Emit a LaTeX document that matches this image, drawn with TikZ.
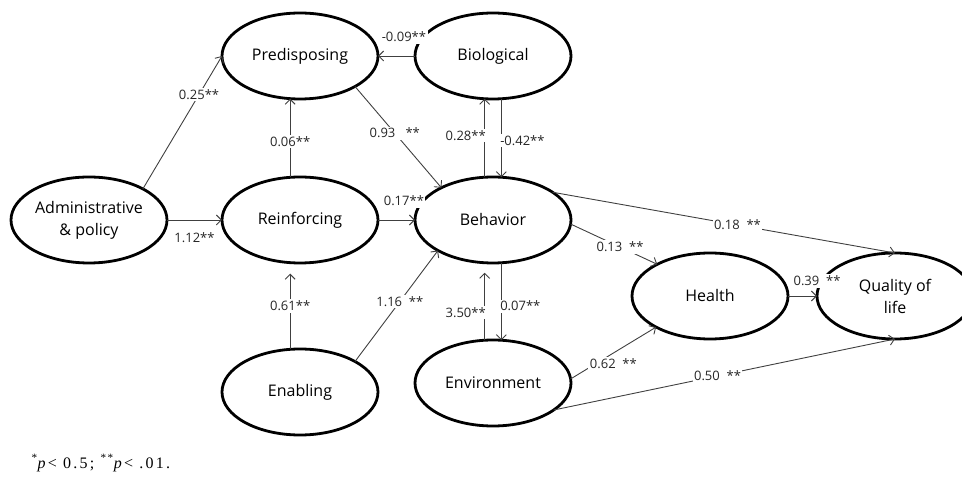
\documentclass[tikz,border=0pt]{standalone}
\usepackage{fontspec}
\setmainfont{Open Sans}
\newfontfamily\notefont[LetterSpace=14]{Liberation Serif}
\usepackage{tkz-graph}
\usetikzlibrary{arrows.meta,shapes.geometric}

\begin{document}
\begin{tikzpicture}[x=1pt,y=1pt,
	VertexStyle/.style={draw,ellipse,line width=2.8pt,inner sep=0pt,
		minimum width=156pt,minimum height=86pt,align=center,
		font=\fontsize{16}{22}\selectfont},
	EdgeStyle/.style={draw,->,>={Straight Barb[length=5pt,width=10pt]},
		line width=0.9pt,color=black!75},
	LabelStyle/.style={fill=white,inner sep=1.5pt,text=black!85,
		font=\fontsize{13}{15}\selectfont}]
	\useasboundingbox (0,0) rectangle (962,477);
		\Vertex[x=89 ,y=257,L={Administrative\\\& policy}]{Adm}
		\Vertex[x=300,y=421,L={Predisposing}]{Pred}
		\Vertex[x=493,y=421,L={Biological}]{Bio}
		\Vertex[x=300,y=257,L={Reinforcing}]{Reinf}
		\Vertex[x=493,y=257,L={Behavior}]{Beh}
		\Vertex[x=300,y=85 ,L={Enabling}]{Enab}
		\Vertex[x=493,y=94 ,L={Environment}]{Env}
		\Vertex[x=710,y=181,L={Health}]{Hlth}
		\Vertex[x=895,y=181,L={Quality of\\life}]{QoL}
	% left part
		\Edge[label=0.25**,labelstyle={pos=.71}](Adm.30)(Pred.west)
		\Edge[label=1.12**,labelstyle={below=11pt}](Adm)(Reinf)
		\Edge[label=0.06**,labelstyle={pos=.45}](Reinf.103)(Pred.257)
		\Edge[label=0.61**,style={shorten >=11pt}](Enab.103)(Reinf.257)
		\Edge[label=1.16\ \ **,labelstyle={pos=.54}](Enab.29)(Beh.209)
		\Edge[label=0.17**,labelstyle={pos=.7,above=12pt}](Reinf)(Beh)
		\Edge[label=0.93\ \ \ **,labelstyle={pos=.46}](Pred.331)(Beh.148)
	% around behavior
		\Edge[label=0.28**,labelstyle={pos=.53,left=-3pt}](Beh.101)(Bio.259)
		\Edge[label=-0.42**,labelstyle={pos=.53,right=-3pt}](Bio.281)(Beh.79)
		\Edge[label=-0.09**,labelstyle={pos=.3,above=12pt}](Bio)(Pred)
		\Edge[label=0.07**,labelstyle={pos=.56,right=-3pt}](Beh.281)(Env.79)
		\Edge[label=3.50**,labelstyle={pos=.36,left=-3pt},style={shorten >=10pt}](Env.101)(Beh.259)
	% right part
		\Edge[label=0.13\ \ **,labelstyle={pos=.57}](Beh.357)(Hlth.149)
		\Edge[label=0.18\ \ **,labelstyle={pos=.54}](Beh.25)(QoL.north)
		\Edge[label=0.62\ \ **,labelstyle={pos=.5,yshift=-11pt}](Env.3)(Hlth.210)
		\Edge[label=0.50\ \ **,labelstyle={pos=.48}](Env.336)(QoL.south)
		\Edge[label=0.39\ \ **,labelstyle={pos=1,above=8pt}](Hlth)(QoL)
	\node[anchor=west,font=\notefont\fontsize{16}{18}\selectfont] (note) at (28,14)
		{\textsuperscript{*}\textit{p}< 0.5; \textsuperscript{**}\textit{p}< .01.};
\end{tikzpicture}
\end{document}
